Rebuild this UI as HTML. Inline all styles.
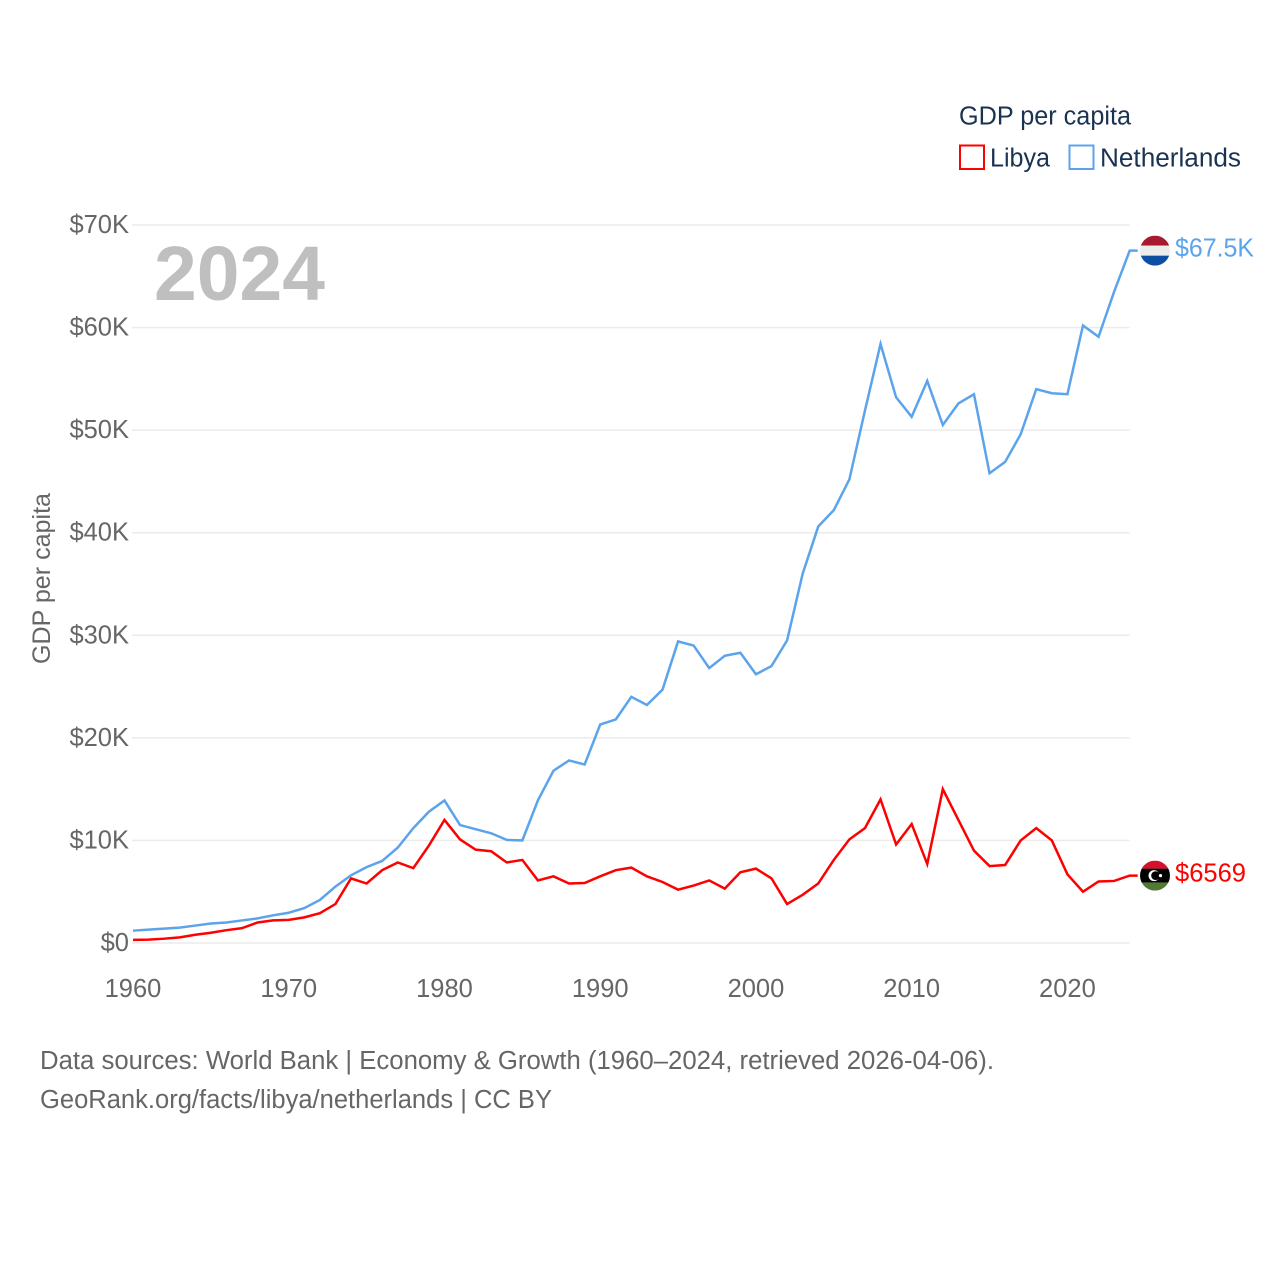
<!DOCTYPE html>
<html lang="en">
<head>
<meta charset="utf-8">
<title>GDP per capita: Libya and Netherlands</title>
<style>
html,body{margin:0;padding:0;background:#fff;}
svg{display:block;font-family:"Liberation Sans",sans-serif;}
</style>
</head>
<body>
<svg id="chart" xmlns="http://www.w3.org/2000/svg" width="1280" height="1280" viewBox="0 0 1280 1280">
  <rect x="0" y="0" width="1280" height="1280" fill="#ffffff"/>
  <g id="grid"></g>
  <g id="y-ticks"></g>
  <g id="x-ticks"></g>
  <text transform="translate(50,664) rotate(-90)" font-size="25" fill="#666666" textLength="171" lengthAdjust="spacingAndGlyphs">GDP per capita</text>
  <text x="154" y="300" font-size="77" font-weight="700" fill="#bfbfbf" textLength="171" lengthAdjust="spacingAndGlyphs">2024</text>
  <g id="series"></g>
  <g id="end-markers"></g>

  <g>
    <text x="959" y="124.5" font-size="25.5" fill="#1a3352" textLength="172" lengthAdjust="spacingAndGlyphs">GDP per capita</text>
    <rect x="960" y="145.5" width="24" height="23.5" fill="none" stroke="#ff0000" stroke-width="2"/>
    <text x="990" y="166.5" font-size="25.5" fill="#1a3352" textLength="60" lengthAdjust="spacingAndGlyphs">Libya</text>
    <rect x="1069.5" y="145.5" width="24" height="23.5" fill="none" stroke="#5ba4ec" stroke-width="2"/>
    <text x="1100" y="166.5" font-size="25.5" fill="#1a3352" textLength="141" lengthAdjust="spacingAndGlyphs">Netherlands</text>
  </g>

  <g>
    <text x="40" y="1069" font-size="25.5" fill="#666666" textLength="954" lengthAdjust="spacingAndGlyphs">Data sources: World Bank | Economy &amp; Growth (1960–2024, retrieved 2026-04-06).</text>
    <text x="40" y="1108" font-size="25.5" fill="#666666" textLength="512" lengthAdjust="spacingAndGlyphs">GeoRank.org/facts/libya/netherlands | CC BY</text>
  </g>
</svg>
<script>
// Chart data, in thousands of US dollars per person
const years = [1960,1961,1962,1963,1964,1965,1966,1967,1968,1969,1970,1971,1972,1973,1974,1975,1976,1977,1978,1979,1980,1981,1982,1983,1984,1985,1986,1987,1988,1989,1990,1991,1992,1993,1994,1995,1996,1997,1998,1999,2000,2001,2002,2003,2004,2005,2006,2007,2008,2009,2010,2011,2012,2013,2014,2015,2016,2017,2018,2019,2020,2021,2022,2023,2024];
const libyaValues = [0.3,0.33,0.42,0.55,0.8,1.0,1.25,1.45,2.0,2.2,2.25,2.5,2.9,3.8,6.3,5.8,7.1,7.85,7.3,9.5,12.0,10.1,9.1,8.95,7.85,8.1,6.1,6.5,5.8,5.85,6.5,7.1,7.35,6.5,5.95,5.2,5.6,6.1,5.3,6.9,7.25,6.3,3.8,4.7,5.8,8.1,10.1,11.2,14.0,9.6,11.6,7.7,15.0,12.0,9.0,7.5,7.6,10.0,11.2,10.0,6.7,5.0,6.0,6.05,6.569];
const netherlandsValues = [1.2,1.3,1.4,1.5,1.7,1.9,2.0,2.2,2.4,2.7,2.95,3.4,4.2,5.5,6.6,7.4,8.0,9.3,11.2,12.8,13.9,11.5,11.1,10.7,10.05,10.0,13.9,16.8,17.8,17.4,21.3,21.8,24.0,23.2,24.7,29.4,29.0,26.8,28.0,28.3,26.2,27.0,29.5,36.0,40.6,42.2,45.2,51.9,58.4,53.2,51.3,54.8,50.5,52.6,53.5,45.8,46.9,49.6,54.0,53.6,53.5,60.2,59.1,63.5,67.5];
const yTickValues = [0,10,20,30,40,50,60,70];
const yTickLabels = ["$0","$10K","$20K","$30K","$40K","$50K","$60K","$70K"];
const xTickValues = [1960,1970,1980,1990,2000,2010,2020];
const xTickLabels = ["1960","1970","1980","1990","2000","2010","2020"];
const libyaEndLabel = "$6569";
const netherlandsEndLabel = "$67.5K";

const NS = "http://www.w3.org/2000/svg";
const PLOT_LEFT = 133, PLOT_RIGHT = 1129.7, PLOT_BOTTOM = 943, PLOT_TOP = 225;
const xOf = function (year) {
  return PLOT_LEFT + (year - 1960) / (2024 - 1960) * (PLOT_RIGHT - PLOT_LEFT);
};
const yOf = function (value) {
  return PLOT_BOTTOM - value / 70 * (PLOT_BOTTOM - PLOT_TOP);
};
const make = function (tag, attrs, parent) {
  const el = document.createElementNS(NS, tag);
  Object.keys(attrs).forEach(function (k) { el.setAttribute(k, attrs[k]); });
  parent.appendChild(el);
  return el;
};

const gridGroup = document.getElementById("grid");
const yTickGroup = document.getElementById("y-ticks");
yTickValues.forEach(function (v, i) {
  const line = make("line", {x1: PLOT_LEFT - 1, x2: PLOT_RIGHT, y1: yOf(v), y2: yOf(v), stroke: "#ebebeb", "stroke-width": 1.5}, gridGroup);
  
  
  const label = make("text", {x: 129, y: yOf(v) + 8, "text-anchor": "end", "font-size": 25.5, fill: "#666666"}, yTickGroup);
  
  
  label.textContent = yTickLabels[i];
});

const xTickGroup = document.getElementById("x-ticks");
xTickValues.forEach(function (y, i) {
  const label = make("text", {x: xOf(y), y: 997, "text-anchor": "middle", "font-size": 25.5, fill: "#666666"}, xTickGroup);
  
  
  label.textContent = xTickLabels[i];
});

const seriesGroup = document.getElementById("series");
const markerGroup = document.getElementById("end-markers");

const drawSeries = function (values, color) {
  const lastY = yOf(values[values.length - 1]);
  let d = values.map(function (v, i) {
    return (i ? "L" : "M") + xOf(years[i]).toFixed(2) + " " + yOf(v).toFixed(2);
  }).join(" ");
  d += " L" + (PLOT_RIGHT + 8) + " " + lastY.toFixed(2);
  return make("path", {d: d, fill: "none", stroke: color, "stroke-width": 2.5, "stroke-linejoin": "miter"}, seriesGroup);
};

const libyaLine = drawSeries(libyaValues, "#ff0000");


const netherlandsLine = drawSeries(netherlandsValues, "#5ba4ec");



const FLAG_X = 1155, FLAG_R = 15;
const clipDefs = make("defs", {}, markerGroup);
const clip = make("clipPath", {id: "flag-clip"}, clipDefs);
make("circle", {cx: 0, cy: 0, r: FLAG_R}, clip);

// Netherlands flag and end label
const nlY = yOf(netherlandsValues[netherlandsValues.length - 1]);
const nlFlag = make("g", {transform: "translate(" + FLAG_X + "," + nlY + ")", "clip-path": "url(#flag-clip)"}, markerGroup);


make("rect", {x: -15, y: -15, width: 30, height: 10, fill: "#a6192e"}, nlFlag);
make("rect", {x: -15, y: -5, width: 30, height: 10, fill: "#ececec"}, nlFlag);
make("rect", {x: -15, y: 5, width: 30, height: 10, fill: "#0b4ea2"}, nlFlag);
const nlLabel = make("text", {x: 1175, y: nlY + 6, "font-size": 25.5, fill: "#5ba4ec", textLength: 79, lengthAdjust: "spacingAndGlyphs"}, markerGroup);


nlLabel.textContent = netherlandsEndLabel;

// Libya flag and end label
const lyY = yOf(libyaValues[libyaValues.length - 1]);
const lyFlag = make("g", {transform: "translate(" + FLAG_X + "," + lyY + ")", "clip-path": "url(#flag-clip)"}, markerGroup);


make("rect", {x: -15, y: -15, width: 30, height: 8, fill: "#d8102c"}, lyFlag);
make("rect", {x: -15, y: -7, width: 30, height: 14, fill: "#000000"}, lyFlag);
make("rect", {x: -15, y: 7, width: 30, height: 8, fill: "#4f7a32"}, lyFlag);
make("circle", {cx: -1, cy: 0, r: 5.5, fill: "#ffffff"}, lyFlag);
make("circle", {cx: 0.6, cy: 0, r: 4.4, fill: "#000000"}, lyFlag);
make("circle", {cx: 5.5, cy: 0, r: 1.6, fill: "#ffffff"}, lyFlag);
const lyLabel = make("text", {x: 1175, y: lyY + 6, "font-size": 25.5, fill: "#ff0000", textLength: 71, lengthAdjust: "spacingAndGlyphs"}, markerGroup);


lyLabel.textContent = libyaEndLabel;
</script>
</body>
</html>
